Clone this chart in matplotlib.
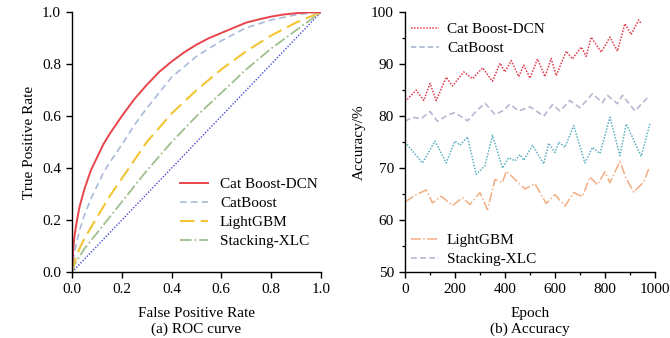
import numpy as np
import matplotlib
matplotlib.use("Agg")
import matplotlib.pyplot as plt
from matplotlib.lines import Line2D
from matplotlib.ticker import MultipleLocator

plt.rcParams['font.family'] = ['Liberation Serif', 'DejaVu Serif']
plt.rcParams['font.size'] = 11

# --- ROC curve data ---
fpr = [0.0, 0.005, 0.01, 0.02, 0.03, 0.05, 0.075, 0.1, 0.125, 0.15, 0.2, 0.25, 0.3, 0.35,
       0.4, 0.45, 0.5, 0.55, 0.6, 0.65, 0.7, 0.75, 0.8, 0.85, 0.9, 0.95, 1.0]
tpr_dcn = [0.0, 0.09, 0.14, 0.2, 0.25, 0.32, 0.39, 0.44, 0.49, 0.53, 0.60, 0.665, 0.72, 0.77,
           0.81, 0.845, 0.875, 0.90, 0.92, 0.94, 0.96, 0.972, 0.983, 0.991, 0.996, 0.999, 1.0]
tpr_cat = [0.0, 0.04, 0.08, 0.12, 0.16, 0.22, 0.28, 0.33, 0.38, 0.42, 0.49, 0.565, 0.63, 0.69,
           0.75, 0.79, 0.83, 0.86, 0.89, 0.915, 0.94, 0.955, 0.97, 0.98, 0.99, 0.996, 1.0]
tpr_lgbm = [0.0, 0.02, 0.04, 0.065, 0.09, 0.13, 0.17, 0.21, 0.25, 0.29, 0.36, 0.43, 0.50,
            0.555, 0.61, 0.655, 0.70, 0.74, 0.78, 0.815, 0.85, 0.88, 0.91, 0.935, 0.96, 0.98, 1.0]
tpr_stack = [0.0, 0.015, 0.03, 0.045, 0.06, 0.09, 0.12, 0.15, 0.18, 0.21, 0.27, 0.33, 0.39,
             0.445, 0.50, 0.55, 0.60, 0.645, 0.69, 0.735, 0.78, 0.82, 0.86, 0.895, 0.93, 0.965, 1.0]
diag = [0.0, 1.0]

# --- Accuracy vs epoch ---
ep_dcn = [0, 45, 75, 100, 125, 165, 190, 235, 270, 310, 350, 380, 400, 425, 455, 475, 500,
          530, 560, 585, 605, 645, 670, 705, 725, 745, 785, 820, 850, 880, 905, 935, 945]
acc_dcn = [82.8, 85.0, 83.0, 86.3, 83.0, 87.5, 85.8, 88.5, 87.2, 89.3, 86.7, 90.2, 88.5, 90.7,
           87.6, 89.8, 87.3, 91.0, 87.6, 91.1, 87.8, 92.5, 91.0, 93.3, 91.5, 95.2, 92.3, 95.2,
           92.5, 97.8, 95.7, 98.5, 97.8]

ep_stack = [0, 30, 65, 100, 130, 170, 200, 250, 290, 320, 360, 390, 420, 455, 500, 555, 590,
            620, 660, 700, 750, 790, 810, 850, 870, 920, 975]
acc_stack = [79.0, 79.8, 79.5, 80.9, 79.0, 80.2, 80.7, 79.1, 81.2, 82.5, 80.3, 81.0, 82.3, 81.0,
             81.8, 80.0, 82.2, 81.0, 83.0, 81.6, 84.3, 82.6, 84.0, 82.4, 84.0, 81.0, 83.8]

ep_cat = [0, 70, 120, 165, 200, 220, 250, 285, 320, 350, 390, 415, 440, 460, 475, 510, 555,
          575, 600, 615, 640, 675, 720, 750, 780, 820, 860, 885, 945, 980]
acc_cat = [75.0, 71.0, 75.2, 71.0, 75.2, 74.4, 76.0, 68.8, 70.5, 76.3, 70.0, 72.0, 71.4, 72.6,
           71.5, 74.4, 70.8, 74.8, 73.0, 75.0, 74.0, 78.2, 71.0, 74.0, 72.8, 79.8, 72.4, 78.5,
           72.3, 78.5]

ep_lgbm = [0, 45, 85, 110, 145, 190, 230, 260, 300, 330, 360, 390, 405, 445, 480, 520, 565,
           600, 640, 675, 710, 740, 770, 800, 820, 860, 885, 915, 955, 975]
acc_lgbm = [63.5, 64.9, 65.8, 63.3, 64.6, 62.8, 64.3, 63.0, 65.3, 62.0, 67.8, 67.2, 69.4, 67.6,
            66.0, 67.0, 63.2, 64.9, 62.7, 65.3, 64.5, 68.3, 66.8, 69.3, 67.2, 71.3, 68.0, 65.4,
            67.3, 69.8]

fig = plt.figure(figsize=(6.7, 3.38), dpi=100)
ax1 = fig.add_axes([0.1075, 0.195, 0.3715, 0.769])
ax2 = fig.add_axes([0.6045, 0.195, 0.373, 0.769])

leg_kw = dict(frameon=False, fontsize=11, handlelength=1.8, handletextpad=0.8,
              labelspacing=0.35, borderpad=0.2)

# left: ROC
ax1.plot(diag, diag, color='#4a4ad8', ls=(0, (1, 1.2)), lw=1.0)
ax1.plot(fpr, tpr_stack, color='#9fbf8c', ls='-.', lw=1.3, label='Stacking-XLC')
ax1.plot(fpr, tpr_lgbm, color='#f2c533', ls=(0, (7, 3)), lw=1.5, label='LightGBM')
ax1.plot(fpr, tpr_cat, color='#a9bbd9', ls=(0, (4, 2.5)), lw=1.2, label='CatBoost')
ax1.plot(fpr, tpr_dcn, color='#e8454a', ls='-', lw=1.4, label='Cat Boost-DCN')
h, l = ax1.get_legend_handles_labels()
ax1.legend(h[::-1], l[::-1], loc='lower right', bbox_to_anchor=(1.03, 0.05), **leg_kw)
ax1.set_xlim(0, 1)
ax1.set_ylim(0, 1)
ax1.xaxis.set_major_locator(MultipleLocator(0.2))
ax1.yaxis.set_major_locator(MultipleLocator(0.2))
ax1.set_xlabel('False Positive Rate\n(a) ROC curve', labelpad=8, linespacing=1.2)
ax1.set_ylabel('True Positive Rate', labelpad=4)

# right: accuracy
ax2.plot(ep_dcn, acc_dcn, color='#e23a4c', ls=(0, (1, 1)), lw=1.1)
ax2.plot(ep_stack, acc_stack, color='#b9b6d2', ls=(0, (3.5, 2)), lw=1.2)
ax2.plot(ep_cat, acc_cat, color='#5fb2c0', ls=(0, (1, 1)), lw=1.1)
ax2.plot(ep_lgbm, acc_lgbm, color='#f3ad80', ls='-.', lw=1.1)
top_h = [Line2D([], [], color='#e23a4c', ls=(0, (1, 1)), lw=1.1),
         Line2D([], [], color='#9fb0c8', ls=(0, (3.5, 2)), lw=1.1)]
bot_h = [Line2D([], [], color='#f3ad80', ls='-.', lw=1.1),
         Line2D([], [], color='#b9b6d2', ls=(0, (3.5, 2)), lw=1.2)]
right_kw = dict(leg_kw, handletextpad=0.55, borderaxespad=0.2)
leg1 = ax2.legend(top_h, ['Cat Boost-DCN', 'CatBoost'], loc='upper left',
                  bbox_to_anchor=(0.0, 0.985), **right_kw)
ax2.add_artist(leg1)
ax2.legend(bot_h, ['LightGBM', 'Stacking-XLC'], loc='lower left',
           bbox_to_anchor=(0.0, 0.0), **right_kw)
ax2.set_xlim(0, 1000)
ax2.set_ylim(50, 100)
ax2.xaxis.set_major_locator(MultipleLocator(200))
ax2.xaxis.set_minor_locator(MultipleLocator(100))
ax2.yaxis.set_major_locator(MultipleLocator(10))
ax2.yaxis.set_minor_locator(MultipleLocator(5))
ax2.set_xlabel('Epoch\n(b) Accuracy', labelpad=8, linespacing=1.2)
ax2.set_ylabel('Accuracy/%', labelpad=4)

for ax in (ax1, ax2):
    for s in ('top', 'right'):
        ax.spines[s].set_visible(False)
    for s in ('left', 'bottom'):
        ax.spines[s].set_linewidth(1.0)
    ax.tick_params(which='major', direction='out', length=4, width=1.0, pad=4)
    ax.tick_params(which='minor', direction='out', length=2.5, width=0.9)

fig.savefig('out.png', dpi=100)
